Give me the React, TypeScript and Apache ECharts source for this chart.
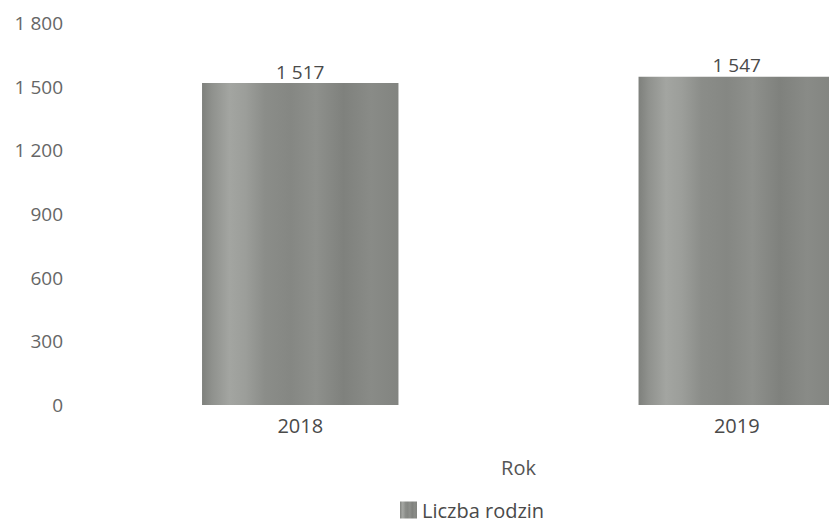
import React, { useEffect, useRef } from "react";
import * as echarts from "echarts";

const categories = ["2018", "2019"];
const values = [1517, 1547];
const yTicks = [0, 300, 600, 900, 1200, 1500, 1800];
const seriesName = "Liczba rodzin";
const axisName = "Rok";

const fmt = (v: number) => String(v).replace(/\B(?=(\d{3})+(?!\d))/g, " ");

const barFill = new echarts.graphic.LinearGradient(0, 0, 1, 0, [
  { offset: 0, color: "#7e807c" },
  { offset: 0.05, color: "#8f918d" },
  { offset: 0.14, color: "#a3a5a1" },
  { offset: 0.22, color: "#9c9e9a" },
  { offset: 0.32, color: "#8b8d89" },
  { offset: 0.45, color: "#858783" },
  { offset: 0.58, color: "#8e908c" },
  { offset: 0.72, color: "#7f817d" },
  { offset: 0.86, color: "#898b87" },
  { offset: 1, color: "#828480" },
]);

export default function App() {
  const ref = useRef<HTMLDivElement>(null);
  useEffect(() => {
    if (!ref.current) return;
    const chart = echarts.init(ref.current, undefined, { renderer: "svg" });
    const font = "'Open Sans', 'Noto Sans', sans-serif";
    chart.setOption({
      animation: false,
      textStyle: { fontFamily: font },
      grid: { left: 82, right: 45, top: 23, bottom: 119, containLabel: false },
      legend: {
        show: true,
        left: 400,
        bottom: 4,
        padding: 0,
        itemWidth: 17,
        itemHeight: 17,
        itemGap: 5,
        icon: "rect",
        textStyle: { fontSize: 20, lineHeight: 20, color: "#4a4a4a", fontFamily: font },
        data: [seriesName],
      },
      xAxis: {
        type: "category",
        data: categories,
        name: axisName,
        nameLocation: "middle",
        nameGap: 52,
        nameTextStyle: { fontSize: 20, color: "#555", fontFamily: font },
        axisLine: { show: false },
        axisTick: { show: false },
        axisLabel: { fontSize: 20, color: "#4a4a4a", margin: 10, fontFamily: font },
      },
      yAxis: {
        type: "value",
        min: 0,
        max: 1800,
        interval: 300,
        axisLine: { show: false },
        axisTick: { show: false },
        splitLine: { show: false },
        axisLabel: {
          fontSize: 19,
          color: "#666",
          margin: 19,
          fontFamily: font,
          formatter: (v: number) => (yTicks.includes(v) ? fmt(v) : ""),
        },
      },
      series: [
        {
          name: seriesName,
          type: "bar",
          data: values,
          barWidth: "45%",
          itemStyle: { color: barFill },
          label: {
            show: true,
            position: "top",
            distance: 2,
            fontSize: 19,
            color: "#4a4a4a",
            fontFamily: font,
            formatter: (p: any) => fmt(p.value),
          },
        },
      ],
    });
    return () => chart.dispose();
  }, []);
  return (
    <div
      style={{
        position: "fixed",
        left: 0,
        top: 0,
        width: 829,
        height: 524,
        overflow: "hidden",
        background: "#fff",
      }}
    >
      <div ref={ref} style={{ width: 1000, height: 524 }} />
    </div>
  );
}
